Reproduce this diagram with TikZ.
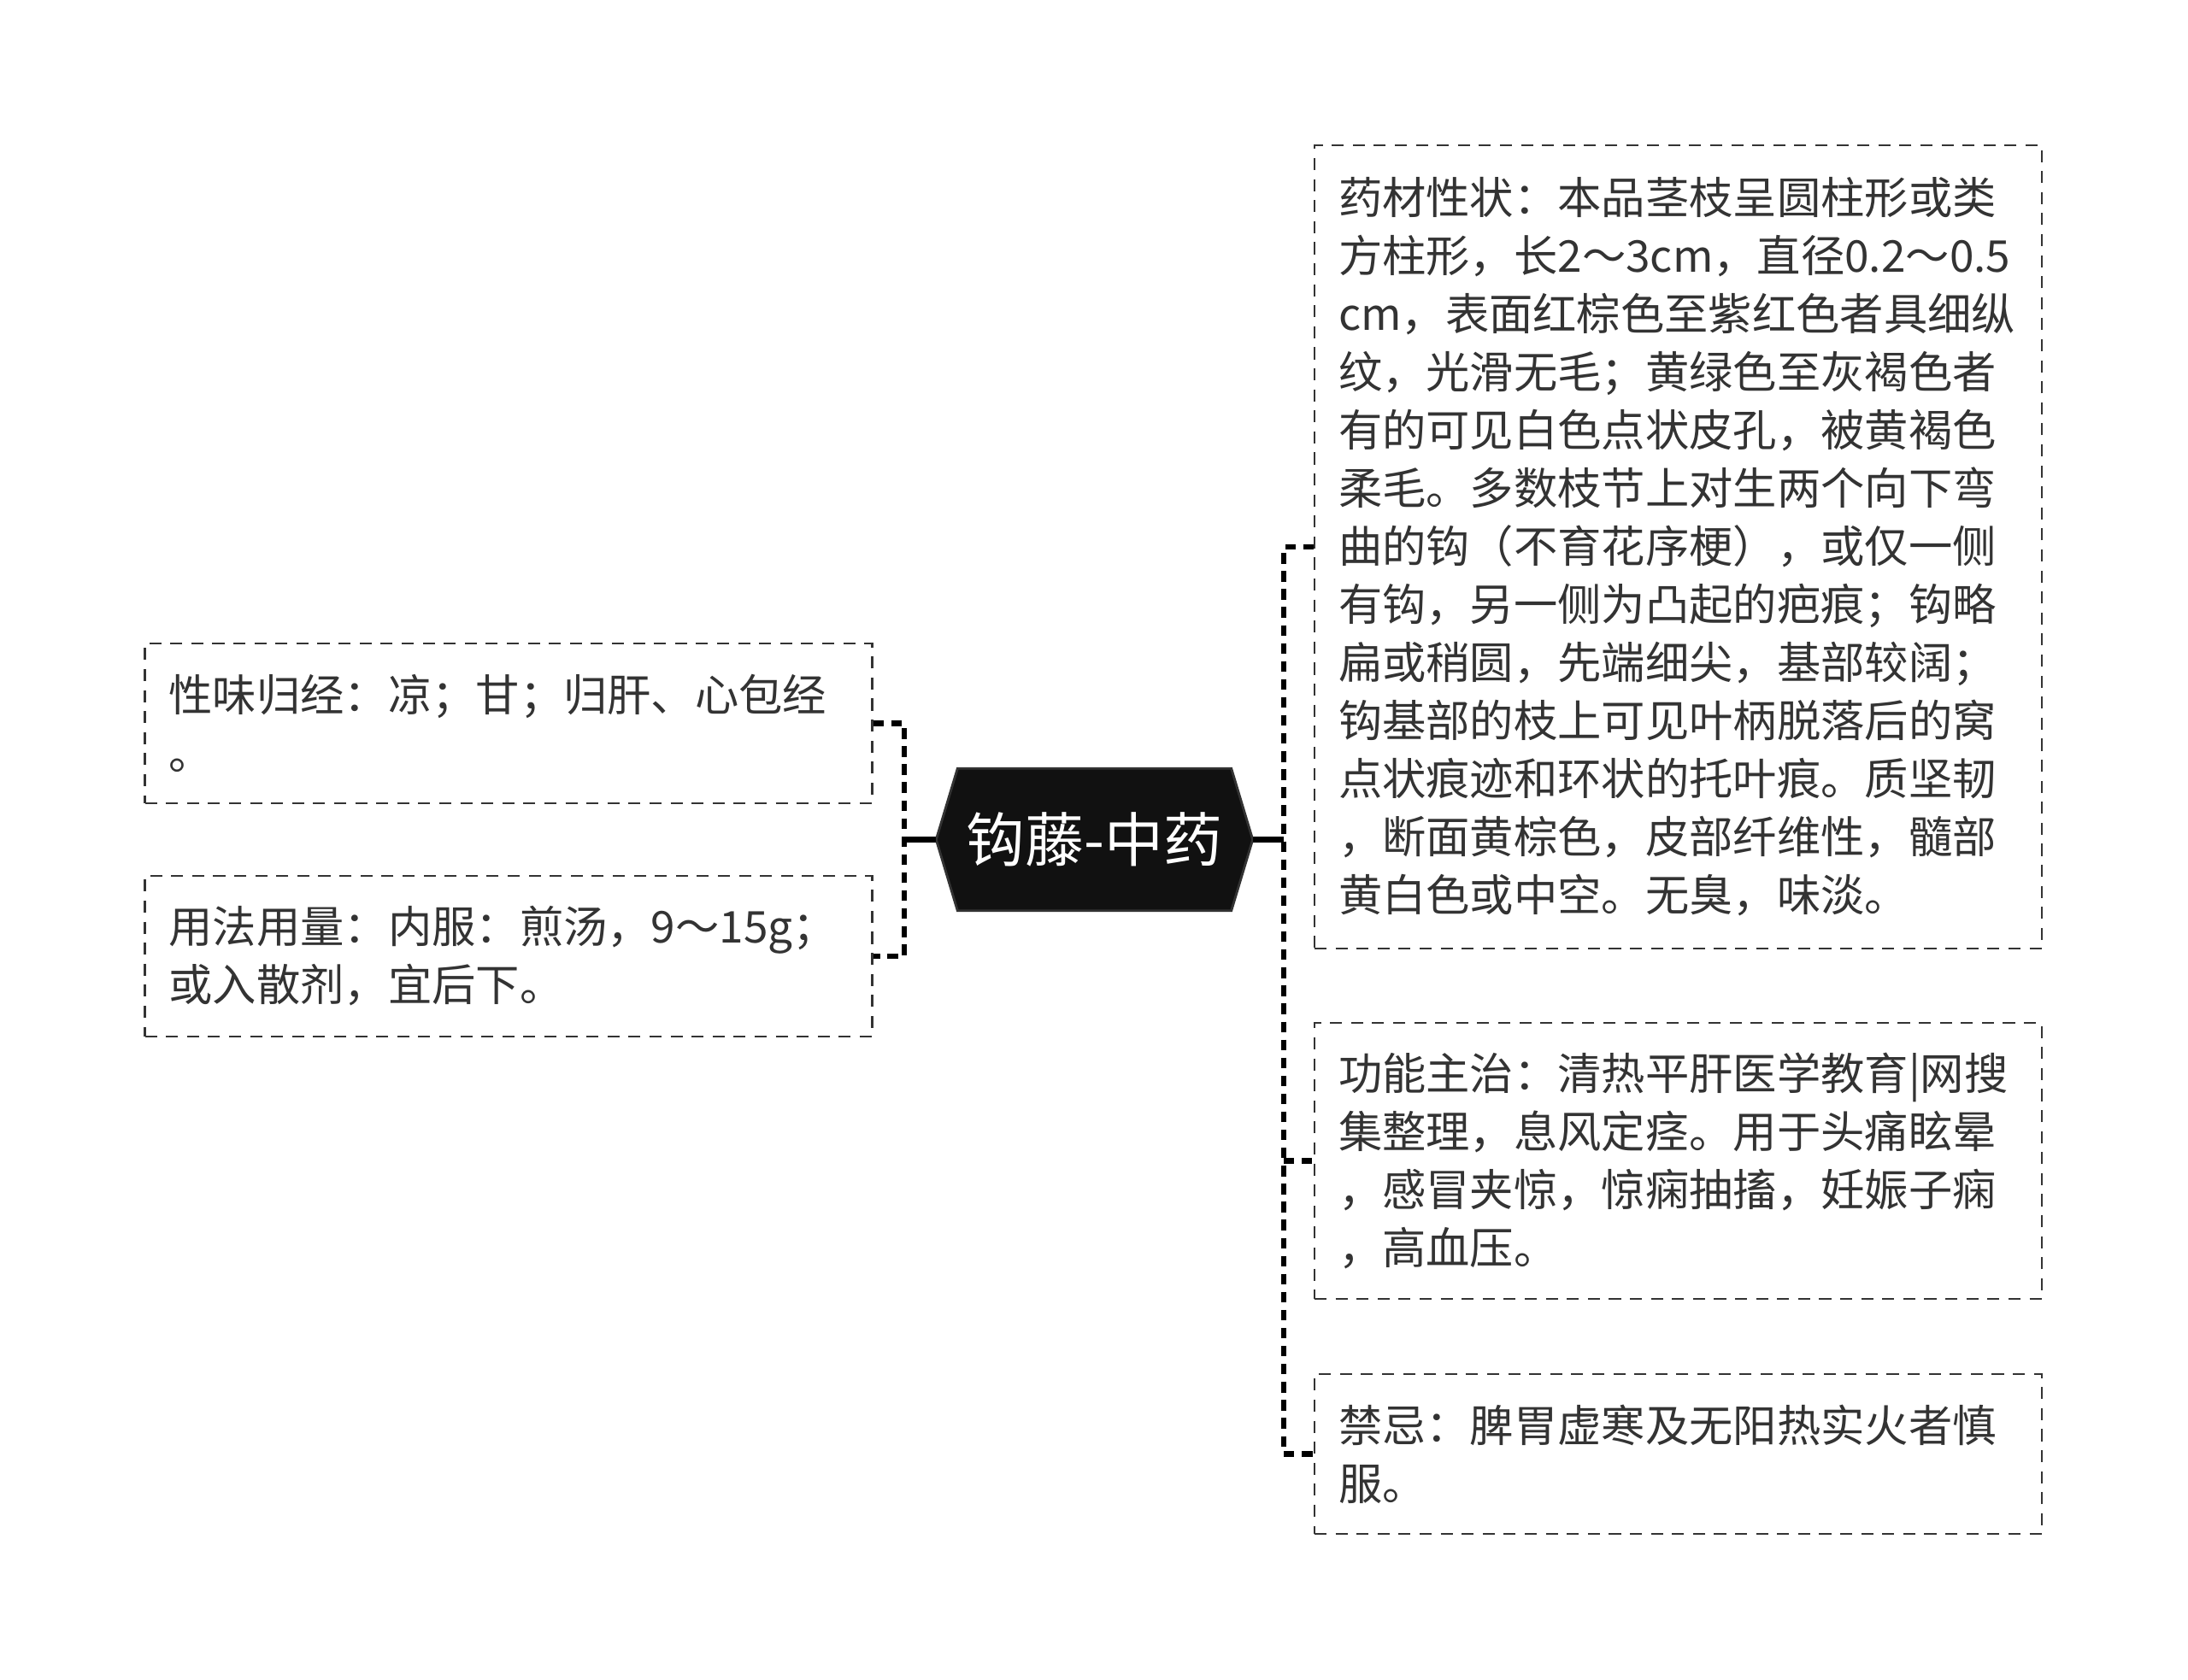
\documentclass[tikz,border=0pt]{standalone}
\usepackage{fontspec}
\setmainfont{Noto Sans CJK SC}
\usepackage{xcolor}
\usepackage{tikz}
\usetikzlibrary{backgrounds}
\definecolor{inkgray}{HTML}{333333}
\definecolor{rootfill}{HTML}{111111}

\begin{document}
\begin{tikzpicture}[
  root/.style={minimum width=3.69cm, minimum height=1.65cm, inner sep=0pt, text=white, font=\fontsize{19.6pt}{22pt}\selectfont},
  rootshape/.style={fill=rootfill, draw=inkgray, line width=0.8pt},
  leaf/.style={draw=inkgray, line width=0.6pt, dash pattern=on 4pt off 3pt, text=inkgray, align=left, inner xsep=0.28cm, inner ysep=0pt, text width=7.95cm, minimum height=#1, font=\fontsize{14.6pt}{19.35pt}\selectfont},
  stem/.style={draw=black, line width=1.8pt},
  branch/.style={draw=black, line width=1.8pt, dash pattern=on 3.5pt off 2.5pt}]

  \useasboundingbox (0,0) rectangle (25.6,-19.66);

  \node[root] (root) at (12.805,-9.825) {钩藤-中药};

  \node[leaf=1.87cm] (l1) at (5.95,-8.465) {性味归经：凉；甘；归肝、心包经\\。};
  \node[leaf=1.88cm] (l2) at (5.95,-11.19) {用法用量：内服：煎汤，9～15g；\\或入散剂，宜后下。};

  \node[leaf=9.40cm] (r1) at (19.635,-6.40) {药材性状：本品茎枝呈圆柱形或类\\方柱形，长2～3cm，直径0.2～0.5\\cm，表面红棕色至紫红色者具细纵\\纹，光滑无毛；黄绿色至灰褐色者\\有的可见白色点状皮孔，被黄褐色\\柔毛。多数枝节上对生两个向下弯\\曲的钩（不育花序梗），或仅一侧\\有钩，另一侧为凸起的疤痕；钩略\\扁或稍圆，先端细尖，基部较阔；\\钩基部的枝上可见叶柄脱落后的窝\\点状痕迹和环状的托叶痕。质坚韧\\，断面黄棕色，皮部纤维性，髓部\\黄白色或中空。无臭，味淡。};
  \node[leaf=3.23cm] (r2) at (19.635,-13.585) {功能主治：清热平肝医学教育|网搜\\集整理，息风定痉。用于头痛眩晕\\，感冒夹惊，惊痫抽搐，妊娠子痫\\，高血压。};
  \node[leaf=1.87cm] (r3) at (19.635,-17.015) {禁忌：脾胃虚寒及无阳热实火者慎\\服。};

  \coordinate (lbus) at (10.58,-9.825);
  \coordinate (rbus) at (15.02,-9.825);

  % hexagon behind the root text
  \begin{scope}[on background layer]
    \fill[white] (0,0) rectangle (25.6,-19.66);
    \path[rootshape] (root.west) -- ([xshift=0.25cm]root.north west) -- ([xshift=-0.25cm]root.north east)
      -- (root.east) -- ([xshift=-0.25cm]root.south east) -- ([xshift=0.25cm]root.south west) -- cycle;
  \end{scope}

  \draw[stem] (root.west) -- (lbus);
  \draw[stem] (root.east) -- (rbus);
  \draw[branch] (l1.east) -| (lbus) |- (l2.east);
  \draw[branch] (r1.west) -| (rbus) |- (r3.west);
  \draw[branch] (rbus |- r2.west) -- (r2.west);
\end{tikzpicture}
\end{document}
